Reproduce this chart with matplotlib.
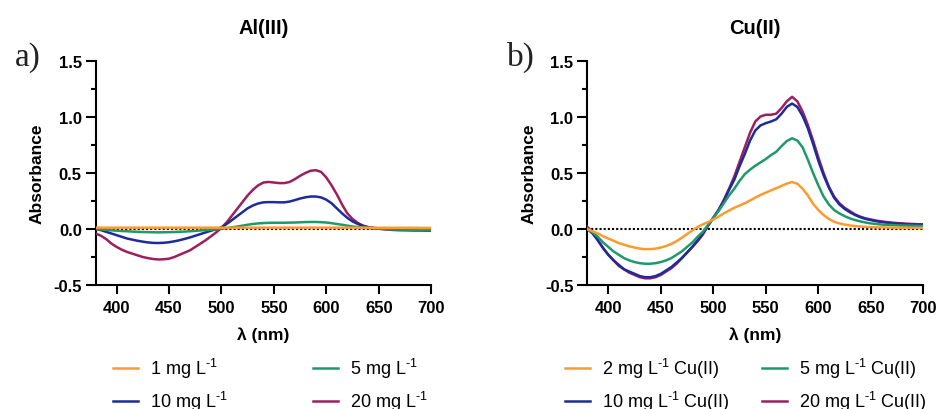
import numpy as np
import matplotlib
matplotlib.use("Agg")
import matplotlib.pyplot as plt
from matplotlib.lines import Line2D
from matplotlib.ticker import MultipleLocator, FormatStrFormatter

plt.rcParams['font.family'] = ['Liberation Sans', 'DejaVu Sans']
plt.rcParams['mathtext.fontset'] = 'custom'
plt.rcParams['mathtext.rm'] = 'Liberation Sans'
plt.rcParams['mathtext.it'] = 'Liberation Sans:italic'
plt.rcParams['mathtext.bf'] = 'Liberation Sans:bold'
plt.rcParams['axes.unicode_minus'] = False

# --- data ---
wl = np.arange(380, 701, 5)

al_1 = [0.012, 0.012, 0.012, 0.012, 0.012, 0.012, 0.012, 0.012, 0.012, 0.012,
        0.012, 0.012, 0.012, 0.012, 0.012, 0.012, 0.012, 0.012, 0.012, 0.012,
        0.012, 0.012, 0.012, 0.012, 0.012, 0.012, 0.012, 0.012, 0.012, 0.012,
        0.012, 0.012, 0.012, 0.012, 0.012, 0.012, 0.012, 0.012, 0.012, 0.012,
        0.012, 0.012, 0.012, 0.012, 0.012, 0.012, 0.012, 0.012, 0.012, 0.012,
        0.012, 0.012, 0.012, 0.011, 0.011, 0.011, 0.011, 0.011, 0.011, 0.011,
        0.011, 0.011, 0.010, 0.010, 0.010]
al_5 = [0.0, -0.004, -0.008, -0.012, -0.015, -0.018, -0.020, -0.023, -0.025, -0.027,
        -0.028, -0.029, -0.030, -0.029, -0.028, -0.027, -0.025, -0.023, -0.020, -0.017,
        -0.013, -0.010, -0.006, -0.002, 0.002, 0.008, 0.015, 0.022, 0.030, 0.038,
        0.045, 0.050, 0.053, 0.055, 0.056, 0.056, 0.056, 0.057, 0.058, 0.060,
        0.062, 0.063, 0.063, 0.061, 0.058, 0.052, 0.045, 0.038, 0.030, 0.023,
        0.017, 0.012, 0.008, 0.005, 0.002, 0.0, -0.002, -0.004, -0.005, -0.006,
        -0.007, -0.007, -0.008, -0.008, -0.008]
al_10 = [0.0, -0.01, -0.025, -0.04, -0.055, -0.07, -0.085, -0.095, -0.105, -0.113,
         -0.12, -0.124, -0.125, -0.123, -0.118, -0.11, -0.10, -0.088, -0.075, -0.06,
         -0.045, -0.03, -0.015, -0.002, 0.015, 0.045, 0.08, 0.115, 0.15, 0.185,
         0.21, 0.228, 0.238, 0.24, 0.24, 0.238, 0.238, 0.245, 0.258, 0.272,
         0.283, 0.29, 0.29, 0.282, 0.262, 0.23, 0.185, 0.14, 0.10, 0.068,
         0.045, 0.028, 0.017, 0.01, 0.005, 0.002, 0.0, -0.002, -0.003, -0.004,
         -0.005, -0.005, -0.006, -0.006, -0.006]
al_20 = [-0.04, -0.06, -0.09, -0.13, -0.16, -0.185, -0.205, -0.22, -0.235, -0.25,
         -0.26, -0.268, -0.272, -0.27, -0.265, -0.25, -0.23, -0.21, -0.19, -0.16,
         -0.13, -0.10, -0.065, -0.03, 0.01, 0.06, 0.12, 0.18, 0.24, 0.30,
         0.35, 0.39, 0.415, 0.42, 0.415, 0.41, 0.41, 0.42, 0.445, 0.475,
         0.50, 0.52, 0.525, 0.51, 0.46, 0.39, 0.31, 0.22, 0.14, 0.09,
         0.055, 0.03, 0.015, 0.008, 0.003, -0.002, -0.006, -0.009, -0.011, -0.012,
         -0.013, -0.014, -0.014, -0.015, -0.015]

cu_2 = [0.0, -0.02, -0.04, -0.065, -0.085, -0.105, -0.125, -0.14, -0.155, -0.165,
        -0.175, -0.18, -0.18, -0.175, -0.165, -0.152, -0.133, -0.108, -0.078, -0.045,
        -0.012, 0.018, 0.042, 0.062, 0.085, 0.11, 0.14, 0.165, 0.19, 0.21,
        0.23, 0.255, 0.28, 0.305, 0.325, 0.345, 0.365, 0.385, 0.405, 0.42,
        0.405, 0.36, 0.30, 0.225, 0.17, 0.125, 0.09, 0.065, 0.05, 0.04,
        0.032, 0.026, 0.022, 0.019, 0.017, 0.015, 0.014, 0.013, 0.012, 0.011,
        0.011, 0.010, 0.010, 0.010, 0.010]
cu_5 = [0.0, -0.03, -0.07, -0.12, -0.16, -0.20, -0.23, -0.26, -0.28, -0.295,
        -0.305, -0.31, -0.31, -0.305, -0.295, -0.28, -0.26, -0.23, -0.20, -0.16,
        -0.12, -0.07, -0.025, 0.035, 0.10, 0.16, 0.23, 0.30, 0.36, 0.43,
        0.49, 0.53, 0.565, 0.595, 0.625, 0.66, 0.69, 0.74, 0.785, 0.81,
        0.79, 0.73, 0.62, 0.50, 0.39, 0.29, 0.22, 0.17, 0.14, 0.115,
        0.095, 0.08, 0.068, 0.058, 0.05, 0.045, 0.04, 0.037, 0.035, 0.033,
        0.031, 0.030, 0.029, 0.028, 0.027]
cu_10 = [0.0, -0.04, -0.10, -0.17, -0.23, -0.28, -0.32, -0.36, -0.38, -0.40,
         -0.42, -0.43, -0.43, -0.42, -0.40, -0.37, -0.34, -0.30, -0.26, -0.21,
         -0.16, -0.10, -0.04, 0.03, 0.10, 0.17, 0.25, 0.35, 0.44, 0.56,
         0.67, 0.79, 0.88, 0.925, 0.945, 0.96, 0.98, 1.03, 1.09, 1.12,
         1.09, 1.01, 0.90, 0.76, 0.61, 0.48, 0.37, 0.28, 0.22, 0.18,
         0.15, 0.125, 0.105, 0.09, 0.08, 0.07, 0.063, 0.057, 0.052, 0.048,
         0.045, 0.042, 0.040, 0.038, 0.037]
cu_20 = [0.02, -0.03, -0.10, -0.17, -0.23, -0.28, -0.33, -0.36, -0.39, -0.41,
         -0.43, -0.44, -0.44, -0.43, -0.41, -0.38, -0.35, -0.31, -0.26, -0.21,
         -0.16, -0.11, -0.05, 0.03, 0.10, 0.17, 0.26, 0.36, 0.47, 0.60,
         0.73, 0.86, 0.96, 1.005, 1.02, 1.02, 1.03, 1.08, 1.14, 1.18,
         1.14, 1.05, 0.93, 0.79, 0.64, 0.50, 0.38, 0.29, 0.23, 0.19,
         0.16, 0.13, 0.11, 0.095, 0.085, 0.075, 0.068, 0.062, 0.057, 0.053,
         0.050, 0.047, 0.045, 0.043, 0.042]

al_labels = [r'1 mg L$^{\text{-}1}$', r'5 mg L$^{\text{-}1}$',
             r'10 mg L$^{\text{-}1}$', r'20 mg L$^{\text{-}1}$']
cu_labels = [r'2 mg L$^{\text{-}1}$ Cu(II)', r'5 mg L$^{\text{-}1}$ Cu(II)',
             r'10 mg L$^{\text{-}1}$ Cu(II)', r'20 mg L$^{\text{-}1}$ Cu(II)']

colors = ['#FF9A30', '#1E9A6A', '#1C2C9A', '#9E1F5C']

fig = plt.figure(figsize=(9.37, 4.10), dpi=100)
ax1 = fig.add_axes([0.1021, 0.3024, 0.358, 0.5464])
ax2 = fig.add_axes([0.6268, 0.3024, 0.3586, 0.5464])


def style_axes(ax, title):
    ax.axhline(0, color='black', linestyle=(0, (1, 1)), linewidth=1.5, zorder=1)
    ax.set_xlim(380, 700)
    ax.set_ylim(-0.5, 1.5)
    ax.set_xticks([400, 450, 500, 550, 600, 650, 700])
    ax.yaxis.set_major_locator(MultipleLocator(0.5))
    ax.yaxis.set_minor_locator(MultipleLocator(0.25))
    ax.yaxis.set_major_formatter(FormatStrFormatter('%.1f'))
    for s in ['top', 'right']:
        ax.spines[s].set_visible(False)
    for s in ['left', 'bottom']:
        ax.spines[s].set_linewidth(1.5)
    ax.tick_params(axis='both', which='major', direction='out', width=1.5,
                   labelsize=12)
    ax.tick_params(axis='y', which='major', length=7, pad=3)
    ax.tick_params(axis='x', which='major', length=6.5, pad=4.5)
    ax.tick_params(axis='y', which='minor', length=3.5, width=1.5)
    for lab in ax.get_xticklabels() + ax.get_yticklabels():
        lab.set_fontweight('bold')
    ax.set_ylabel('Absorbance', fontsize=12.5, fontweight='bold', labelpad=6)
    ax.set_xlabel('λ (nm)', fontsize=12.5, fontweight='bold', labelpad=8)
    ax.set_title(title, fontsize=14.5, fontweight='bold', pad=20)


# draw highest concentration first so the low ones sit on top
al_series = [al_1, al_5, al_10, al_20]
cu_series = [cu_2, cu_5, cu_10, cu_20]
for i in [3, 2, 1, 0]:
    ax1.plot(wl, al_series[i], color=colors[i], linewidth=1.8, zorder=3)
    ax2.plot(wl, cu_series[i], color=colors[i], linewidth=1.8, zorder=3)

style_axes(ax1, 'Al(III)')
style_axes(ax2, 'Cu(II)')

fig.text(15 / 937, 1 - 66 / 410, 'a)', family='Liberation Serif', fontsize=24,
         color='#222222', va='baseline')
fig.text(507 / 937, 1 - 66 / 410, 'b)', family='Liberation Serif', fontsize=24,
         color='#222222', va='baseline')

# legends: column-major order (1, 10 | 5, 20)
order = [0, 2, 1, 3]
h_al = [Line2D([], [], color=colors[i], linewidth=1.8) for i in order]
fig.legend(h_al, [al_labels[i] for i in order], ncol=2, loc='upper left',
           bbox_to_anchor=(113 / 937, 1 - 357 / 410), frameon=False, fontsize=13,
           handlelength=1.4, handletextpad=0.65, columnspacing=4.7,
           labelspacing=0.5, borderpad=0, borderaxespad=0)
h_cu = [Line2D([], [], color=colors[i], linewidth=1.8) for i in order]
fig.legend(h_cu, [cu_labels[i] for i in order], ncol=2, loc='upper left',
           bbox_to_anchor=(565 / 937, 1 - 357 / 410), frameon=False, fontsize=13,
           handlelength=1.4, handletextpad=0.65, columnspacing=1.8,
           labelspacing=0.5, borderpad=0, borderaxespad=0)

fig.savefig('out.png', dpi=100)
